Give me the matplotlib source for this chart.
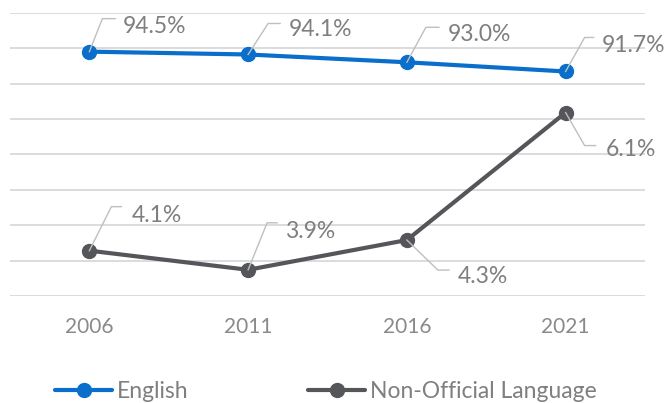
import matplotlib
matplotlib.use("Agg")
import matplotlib.pyplot as plt
from matplotlib.lines import Line2D
from matplotlib.transforms import IdentityTransform

years = ["2006", "2011", "2016", "2021"]
english = [94.5, 94.1, 93.0, 91.7]
non_official = [4.14, 3.87, 4.29, 6.09]
series_names = ["English", "Non-Official Language"]

BLUE = "#0A6FCB"
DARK = "#55565A"
TXT = "#7F7F7F"
LEAD = "#BFBFBF"
FONT = "Lato"

plt.rcParams['font.family'] = [FONT, 'DejaVu Sans']

W, H = 667, 403
fig = plt.figure(figsize=(W / 100, H / 100), dpi=100)
ax = fig.add_axes([10 / W, 1 - 296 / H, 635 / W, (296 - 12.7) / H])
ax2 = ax.twinx()

x = list(range(len(years)))
ax.set_xlim(-0.5, len(years) - 0.5)
ax.set_ylim(60, 100)
ax.set_yticks([60, 65, 70, 75, 80, 85, 90, 95, 100])
ax2.set_ylim(3.5, 7.5)

ax.grid(axis='y', color="#D9D9D9", lw=1.3)
ax.set_axisbelow(True)
for a in (ax, ax2):
    for s in a.spines.values():
        s.set_visible(False)
    a.tick_params(axis='y', left=False, right=False, labelleft=False, labelright=False)
ax.set_xticks(x)
ax.set_xticklabels(years, fontsize=15, color="#8A8A8A")
ax.tick_params(axis='x', length=0, pad=15)

l1, = ax.plot(x, english, color=BLUE, lw=3, marker='o', ms=10, solid_capstyle='round')
l2, = ax2.plot(x, non_official, color=DARK, lw=3, marker='o', ms=10, solid_capstyle='round')

# label offsets in image pixels (dx right, dy down): elbow, end, text-left, text-baseline
eng_offsets = [((13, -33), (26, -33), (33, -18.5)),
               ((20, -31), (32, -31), (41, -18.5)),
               ((19, -35), (32, -35), (41, -21)),
               ((19, -34), (28, -34), (36, -19))]
non_offsets = [((22, -44), (32, -44), (42, -29)),
               ((19, -47), (29, -47), (37, -32)),
               ((31, 30), (42, 30), (51, 43)),
               ((19, 33), (30, 33), (40, 43))]


def add_labels(a, vals, offsets):
    for xi, v, (elb, end, txt) in zip(x, vals, offsets):
        px, py = a.transData.transform((xi, v))
        xs = [px, px + elb[0], px + end[0]]
        ys = [py, py - elb[1], py - end[1]]
        fig.add_artist(Line2D(xs, ys, transform=IdentityTransform(), color=LEAD, lw=1, zorder=1))
        fig.text(px + txt[0], py - txt[1], f"{v:.1f}%", transform=IdentityTransform(),
                 fontsize=16.5, color=TXT, ha='left', va='baseline')


add_labels(ax, english, eng_offsets)
add_labels(ax2, non_official, non_offsets)

fig.legend([l1, l2], series_names, loc='center left', bbox_to_anchor=(55 / W, 1 - 392 / H),
           ncol=2, frameon=False, fontsize=16.5, labelcolor=TXT, handlelength=2.5,
           handletextpad=0.22, columnspacing=5.2, borderpad=0, borderaxespad=0)

fig.savefig("out.png", dpi=100)
